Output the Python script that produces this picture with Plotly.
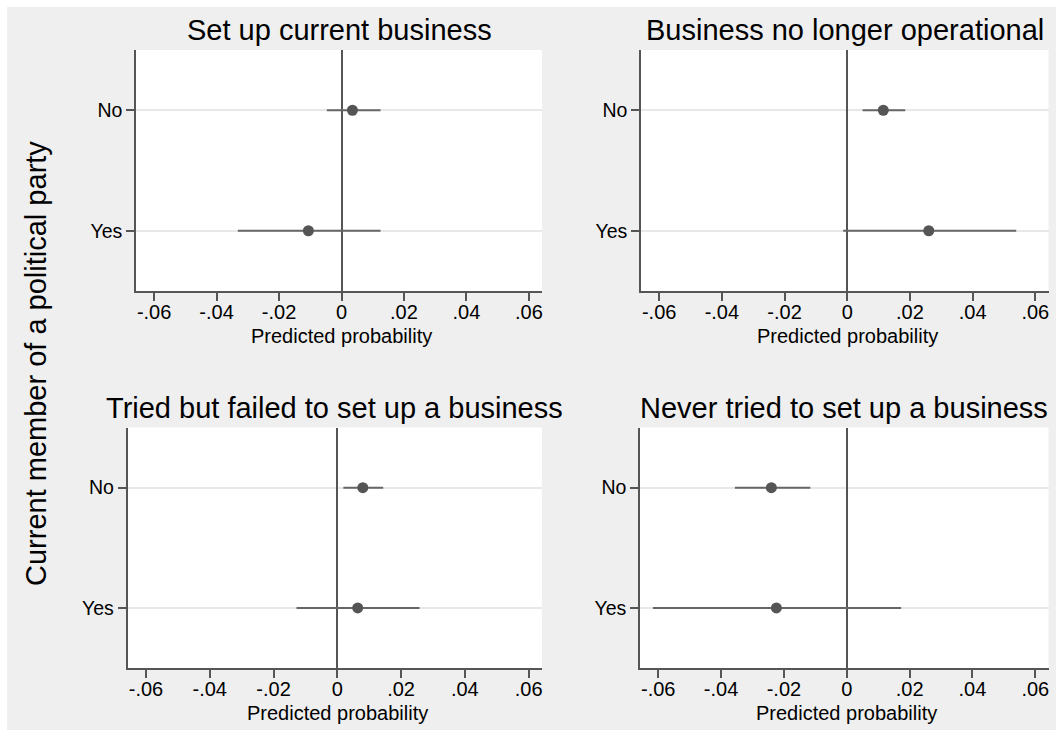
import plotly.graph_objects as go

# Predicted probabilities with 95% confidence intervals, by party membership
categories = ["No", "Yes"]
panel_titles = [
    "Set up current business",
    "Business no longer operational",
    "Tried but failed to set up a business",
    "Never tried to set up a business",
]

est_setup = [0.0035, -0.0106]
lo_setup = [-0.0047, -0.0332]
hi_setup = [0.0125, 0.0125]

est_closed = [0.0115, 0.0260]
lo_closed = [0.0049, -0.0013]
hi_closed = [0.0185, 0.0539]

est_failed = [0.0080, 0.0064]
lo_failed = [0.0019, -0.0128]
hi_failed = [0.0144, 0.0258]

est_never = [-0.0240, -0.0224]
lo_never = [-0.0356, -0.0617]
hi_never = [-0.0116, 0.0173]

x_tickvals = [-0.06, -0.04, -0.02, 0, 0.02, 0.04, 0.06]
x_ticktext = ["-.06", "-.04", "-.02", "0", ".02", ".04", ".06"]
x_title = "Predicted probability"
y_title = "Current member of a political party"

W, H = 1059, 730
FONT = "Liberation Sans, Arial, Helvetica, sans-serif"
DARK = "#555555"
BAR = "#666666"
TEXT = "#000000"

# pixel boxes of the four plot regions: (left, right, top, bottom)
boxes = [
    (136, 542, 50, 291),
    (641, 1048.5, 50, 291),
    (127.5, 542, 427.5, 668),
    (640, 1048.5, 427.5, 668),
]

series = [
    (est_setup, lo_setup, hi_setup),
    (est_closed, lo_closed, hi_closed),
    (est_failed, lo_failed, hi_failed),
    (est_never, lo_never, hi_never),
]

X_MIN, X_MAX = -0.0658, 0.0642

fig = go.Figure()
layout = dict(
    width=W,
    height=H,
    margin=dict(l=0, r=0, t=0, b=0),
    paper_bgcolor="#efefef",
    plot_bgcolor="white",
    showlegend=False,
    font=dict(family=FONT, color=TEXT),
)

annotations = []
for i, ((est, lo, hi), box, title) in enumerate(zip(series, boxes, panel_titles)):
    n = "" if i == 0 else str(i + 1)
    xa, ya = "x" + n, "y" + n
    fig.add_trace(go.Scatter(
        x=est,
        y=categories,
        xaxis=xa,
        yaxis=ya,
        mode="markers",
        marker=dict(size=11, color=DARK),
        error_x=dict(
            type="data",
            symmetric=False,
            array=[h - e for h, e in zip(hi, est)],
            arrayminus=[e - l for e, l in zip(est, lo)],
            color=BAR,
            thickness=2,
            width=0,
        ),
        hoverinfo="x+y",
    ))
    left, right, top, bottom = box
    layout["xaxis" + n] = dict(
        domain=[left / W, right / W],
        anchor=ya,
        range=[X_MIN, X_MAX],
        tickvals=x_tickvals,
        ticktext=x_ticktext,
        ticks="outside",
        ticklen=8,
        tickwidth=1.5,
        tickcolor=DARK,
        ticklabelstandoff=-6,
        tickfont=dict(size=20, family=FONT, color=TEXT),
        showline=True,
        linecolor=DARK,
        linewidth=1.5,
        showgrid=False,
        zeroline=True,
        zerolinecolor=DARK,
        zerolinewidth=1.5,
        fixedrange=True,
    )
    layout["yaxis" + n] = dict(
        domain=[1 - bottom / H, 1 - top / H],
        anchor=xa,
        type="category",
        categoryorder="array",
        categoryarray=categories,
        range=[1.5, -0.5],
        ticks="outside",
        ticklen=8,
        tickwidth=1.5,
        tickcolor=DARK,
        tickfont=dict(size=19.5, family=FONT, color=TEXT),
        showline=True,
        linecolor=DARK,
        linewidth=1.5,
        showgrid=True,
        gridcolor="#e8e8e8",
        gridwidth=1.5,
        zeroline=False,
        fixedrange=True,
    )
    cx = (left + right) / 2
    # panel heading
    annotations.append(dict(
        text=title, x=cx / W, y=1 - (top - 19.5) / H,
        xref="paper", yref="paper", xanchor="center", yanchor="middle",
        showarrow=False, font=dict(size=29, family=FONT, color=TEXT),
    ))
    # x axis title, centred under the zero line
    zero_px = left + (right - left) * (-X_MIN / (X_MAX - X_MIN))
    annotations.append(dict(
        text=x_title, x=zero_px / W,
        y=1 - (bottom + 44.5) / H,
        xref="paper", yref="paper", xanchor="center", yanchor="middle",
        showarrow=False, font=dict(size=20, family=FONT, color=TEXT),
    ))

# shared y axis title
annotations.append(dict(
    text=y_title, x=36 / W, y=1 - 364 / H, textangle=-90,
    xref="paper", yref="paper", xanchor="center", yanchor="middle",
    showarrow=False, font=dict(size=29, family=FONT, color=TEXT),
))

# white page border round the grey graph region
shapes = [
    dict(type="rect", xref="paper", yref="paper", x0=0, x1=7 / W, y0=0, y1=1,
         fillcolor="white", line=dict(width=0), layer="below"),
    dict(type="rect", xref="paper", yref="paper", x0=0, x1=1, y0=1 - 7 / H, y1=1,
         fillcolor="white", line=dict(width=0), layer="below"),
    dict(type="rect", xref="paper", yref="paper", x0=1056 / W, x1=1, y0=0, y1=1,
         fillcolor="white", line=dict(width=0), layer="below"),
]

layout["annotations"] = annotations
layout["shapes"] = shapes
fig.update_layout(**layout)
fig.write_html("out.html", config={"displayModeBar": False})
